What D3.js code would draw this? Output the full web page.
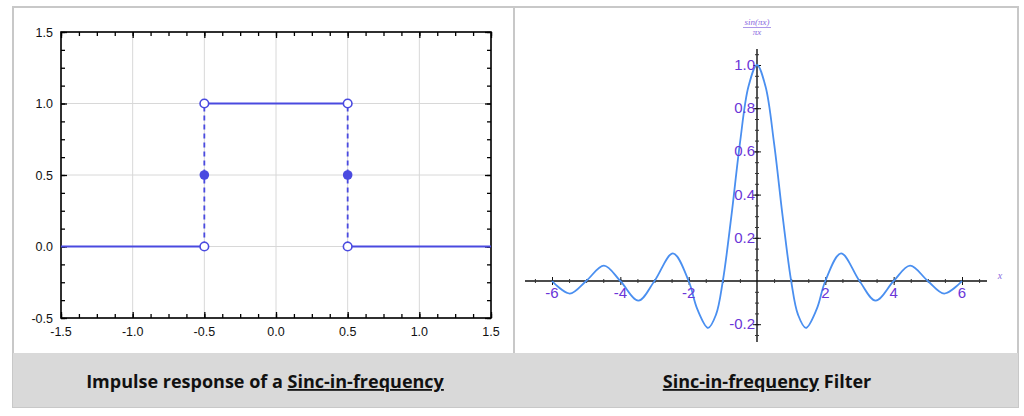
<!DOCTYPE html>
<html><head><meta charset="utf-8">
<script src="https://cdn.jsdelivr.net/npm/d3@7"></script>
<style>body{margin:0;background:#fff}svg{display:block}</style>
</head><body>
<svg id="chart" width="1024" height="416"></svg>
<script>
// Left panel: rectangular impulse response
const rectSegments = [
  { x1: -1.5, x2: -0.5, y: 0 },
  { x1: -0.5, x2: 0.5, y: 1 },
  { x1: 0.5, x2: 1.5, y: 0 }
];
const rectJumps = [-0.5, 0.5];
const openPoints = [[-0.5, 1], [0.5, 1], [-0.5, 0], [0.5, 0]];
const filledPoints = [[-0.5, 0.5], [0.5, 0.5]];
const leftXTicks = [-1.5, -1.0, -0.5, 0.0, 0.5, 1.0, 1.5];
const leftYTicks = [-0.5, 0.0, 0.5, 1.0, 1.5];

// Right panel: sinc curve
const sincX = [-6, -5.48, -5, -4.48, -4, -3.47, -3, -2.46, -2, -1.75, -1.43, -1.2, -1, -0.75, -0.5, -0.25, 0,
  0.25, 0.5, 0.75, 1, 1.2, 1.43, 1.75, 2, 2.46, 3, 3.47, 4, 4.48, 5, 5.48, 6];
const sincY = [0, -0.058, 0, 0.071, 0, -0.091, 0, 0.128, 0, -0.129, -0.217, -0.156, 0, 0.3, 0.637, 0.9, 1,
  0.9, 0.637, 0.3, 0, -0.156, -0.217, -0.129, 0, 0.128, 0, -0.091, 0, 0.071, 0, -0.058, 0];
const rightXTicks = [-6, -4, -2, 2, 4, 6];
const rightYTicks = [-0.2, 0.2, 0.4, 0.6, 0.8, 1.0];

const svg = d3.select("#chart");

// frame and caption band
svg.append("rect").attr("x", 13).attr("y", 7).attr("width", 1005).attr("height", 400)
  .attr("fill", "none").attr("stroke", "#c8c8c8").attr("stroke-width", 2);
svg.append("line").attr("x1", 514).attr("x2", 514).attr("y1", 7).attr("y2", 353)
  .attr("stroke", "#c8c8c8").attr("stroke-width", 2);
svg.append("rect").attr("x", 13).attr("y", 353).attr("width", 1005).attr("height", 54).attr("fill", "#d9d9d9");

const cap = svg.append("g").attr("font-family", "Open Sans, sans-serif").attr("font-weight", "bold")
  .attr("font-size", 18).attr("fill", "#111");
const t1 = cap.append("text").attr("x", 265).attr("y", 388).attr("text-anchor", "middle");
t1.append("tspan").text("Impulse response of a ");
t1.append("tspan").attr("text-decoration", "underline").text("Sinc-in-frequency");
const t2 = cap.append("text").attr("x", 767).attr("y", 388).attr("text-anchor", "middle");
t2.append("tspan").attr("text-decoration", "underline").text("Sinc-in-frequency");
t2.append("tspan").text(" Filter");

// ---------- left chart ----------
const lx = d3.scaleLinear().domain([-1.5, 1.5]).range([61, 491]);
const ly = d3.scaleLinear().domain([-0.5, 1.5]).range([318, 32]);
const blue = "#4a4ae0";
const L = svg.append("g");

// grid
L.selectAll(".gx").data(leftXTicks).enter().append("line")
  .attr("x1", d => lx(d)).attr("x2", d => lx(d)).attr("y1", 32).attr("y2", 318)
  .attr("stroke", "#d8d8d8");
L.selectAll(".gy").data(leftYTicks).enter().append("line")
  .attr("y1", d => ly(d)).attr("y2", d => ly(d)).attr("x1", 61).attr("x2", 491)
  .attr("stroke", "#d8d8d8");

// inner ticks on all four sides
const inner = (axis, len) => axis.tickSizeInner(-len).tickSizeOuter(0).tickFormat("");
const minorX = d3.range(-1.5, 1.5001, 0.125), minorY = d3.range(-0.5, 1.5001, 0.125);
[[d3.axisBottom(lx), 318, 0, 4, minorX], [d3.axisBottom(lx), 318, 0, 6, leftXTicks],
 [d3.axisTop(lx), 32, 0, 4, minorX], [d3.axisTop(lx), 32, 0, 6, leftXTicks]].forEach(([a, y, x, len, tv]) => {
  L.append("g").attr("transform", `translate(0,${y})`).call(inner(a.tickValues(tv), len))
    .call(g => g.select(".domain").remove()).selectAll("line").attr("stroke", "#000").attr("stroke-width", 1.3);
});
[[d3.axisLeft(ly), 61, 4, minorY], [d3.axisLeft(ly), 61, 6, leftYTicks],
 [d3.axisRight(ly), 491, 4, minorY], [d3.axisRight(ly), 491, 6, leftYTicks]].forEach(([a, x, len, tv]) => {
  L.append("g").attr("transform", `translate(${x},0)`).call(inner(a.tickValues(tv), len))
    .call(g => g.select(".domain").remove()).selectAll("line").attr("stroke", "#000").attr("stroke-width", 1.3);
});
L.append("rect").attr("x", 61).attr("y", 32).attr("width", 430).attr("height", 286)
  .attr("fill", "none").attr("stroke", "#000").attr("stroke-width", 1.6);

// labels
const lab = L.append("g").attr("font-family", "Liberation Sans, Arial, sans-serif").attr("font-size", 12.5).attr("fill", "#111");
lab.selectAll(".xl").data(leftXTicks).enter().append("text")
  .attr("x", d => lx(d)).attr("y", 336).attr("text-anchor", "middle").text(d => d.toFixed(1));
lab.selectAll(".yl").data(leftYTicks).enter().append("text")
  .attr("x", 53).attr("y", d => ly(d) + 4.5).attr("text-anchor", "end").text(d => d.toFixed(1));

// series
L.selectAll(".seg").data(rectSegments).enter().append("line")
  .attr("x1", d => lx(d.x1)).attr("x2", d => lx(d.x2)).attr("y1", d => ly(d.y)).attr("y2", d => ly(d.y))
  .attr("stroke", blue).attr("stroke-width", 1.8);
L.selectAll(".jmp").data(rectJumps).enter().append("line")
  .attr("x1", d => lx(d)).attr("x2", d => lx(d)).attr("y1", ly(0)).attr("y2", ly(1))
  .attr("stroke", blue).attr("stroke-width", 1.8).attr("stroke-dasharray", "5,4");
L.selectAll(".op").data(openPoints).enter().append("circle")
  .attr("cx", d => lx(d[0])).attr("cy", d => ly(d[1])).attr("r", 4.3)
  .attr("fill", "#fff").attr("stroke", blue).attr("stroke-width", 1.6);
L.selectAll(".fp").data(filledPoints).enter().append("circle")
  .attr("cx", d => lx(d[0])).attr("cy", d => ly(d[1])).attr("r", 4.8).attr("fill", blue);

// ---------- right chart ----------
const rx = d3.scaleLinear().domain([0, 6]).range([757, 962]);
const ry = d3.scaleLinear().domain([0, 1]).range([281, 65]);
const purple = "#6a35d8";
const R = svg.append("g");

R.append("line").attr("x1", 525).attr("x2", 987).attr("y1", ry(0)).attr("y2", ry(0)).attr("stroke", "#111").attr("stroke-width", 1.4);
R.append("line").attr("x1", rx(0)).attr("x2", rx(0)).attr("y1", 49).attr("y2", 342).attr("stroke", "#111").attr("stroke-width", 1.4);

R.append("g").attr("transform", `translate(0,${ry(0)})`)
  .call(d3.axisBottom(rx).tickValues(d3.range(-6.5, 6.6, 0.5).filter(v => v !== 0)).tickSizeInner(4).tickSizeOuter(0).tickFormat(""))
  .call(g => g.select(".domain").remove())
  .selectAll("line").attr("stroke", "#333").attr("y1", -2).attr("y2", 2);
R.append("g").attr("transform", `translate(0,${ry(0)})`)
  .call(d3.axisBottom(rx).tickValues(rightXTicks).tickSizeOuter(0).tickFormat(""))
  .call(g => g.select(".domain").remove())
  .selectAll("line").attr("stroke", "#111").attr("y1", -4).attr("y2", 4);
R.append("g").attr("transform", `translate(${rx(0)},0)`)
  .call(d3.axisLeft(ry).tickValues(d3.range(-0.25, 1.1, 0.05).filter(v => Math.abs(v) > 1e-6)).tickSizeOuter(0).tickFormat(""))
  .call(g => g.select(".domain").remove())
  .selectAll("line").attr("stroke", "#333").attr("x1", -2).attr("x2", 2);
R.append("g").attr("transform", `translate(${rx(0)},0)`)
  .call(d3.axisLeft(ry).tickValues(rightYTicks).tickSizeOuter(0).tickFormat(""))
  .call(g => g.select(".domain").remove())
  .selectAll("line").attr("stroke", "#111").attr("x1", -4).attr("x2", 4);

const sinc = d3.line().x(d => rx(d[0])).y(d => ry(d[1])).curve(d3.curveCatmullRom.alpha(0.5));
R.append("path").datum(sincX.map((x, i) => [x, sincY[i]])).attr("d", sinc)
  .attr("fill", "none").attr("stroke", "#4a8ff0").attr("stroke-width", 1.8);

const rl = R.append("g").attr("font-family", "Liberation Sans, Arial, sans-serif").attr("font-size", 15).attr("fill", purple);
rl.selectAll(".rxl").data(rightXTicks).enter().append("text")
  .attr("x", d => rx(d)).attr("y", 298).attr("text-anchor", "middle").text(d => d);
rl.selectAll(".ryl").data(rightYTicks).enter().append("text")
  .attr("x", rx(0) - 2).attr("y", d => ry(d) + 5).attr("text-anchor", "end").text(d => d.toFixed(1));

const ti = R.append("g").attr("font-family", "Liberation Serif, serif").attr("font-style", "italic")
  .attr("font-size", 9).attr("fill", "#8a6ae0").attr("text-anchor", "middle");
ti.append("text").attr("x", rx(0)).attr("y", 25).text("sin(πx)");
R.append("line").attr("x1", rx(0) - 14).attr("x2", rx(0) + 14).attr("y1", 27.5).attr("y2", 27.5).attr("stroke", "#8a6ae0").attr("stroke-width", 0.7);
ti.append("text").attr("x", rx(0)).attr("y", 35).text("πx");
ti.append("text").attr("x", 1000).attr("y", 279).attr("font-size", 10).text("x");
</script>
</body></html>
